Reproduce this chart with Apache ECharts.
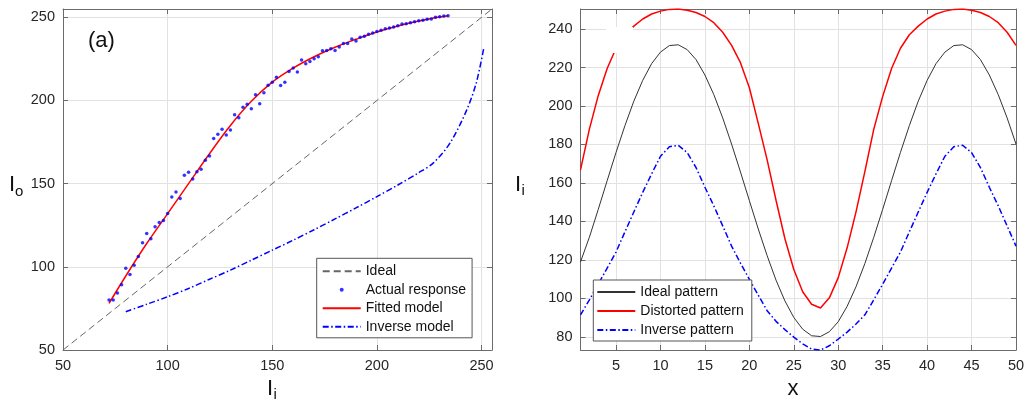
<!DOCTYPE html>
<html>
<head>
<meta charset="utf-8">
<script src="https://cdn.jsdelivr.net/npm/echarts@6/dist/echarts.min.js"></script>
<style>
  html, body { margin: 0; padding: 0; background: #fff; }
  #chart { width: 1036px; height: 401px; }
</style>
</head>
<body>
<div id="chart"></div>
<script>
// ---- (a) response curve: input intensity Ii vs output intensity Io ----
const respTicks = [50, 100, 150, 200, 250];

const idealLine = [[50, 50], [255, 255]];

const measuredIi = [72, 74, 76, 78, 80, 82, 84, 86, 88, 90, 92, 94, 96, 98, 100, 102, 104, 106, 108, 110,
  112, 114, 116, 118, 120, 122, 124, 126, 128, 130, 132, 134, 136, 138, 140, 142, 144, 146, 148, 150,
  152, 154, 156, 158, 160, 162, 164, 166, 168, 170, 172, 174, 176, 178, 180, 182, 184, 186, 188, 190,
  192, 194, 196, 198, 200, 202, 204, 206, 208, 210, 212, 214, 216, 218, 220, 222, 224, 226, 228, 230,
  232, 234];
const measuredIo = [80.1, 80.1, 84.2, 89.2, 99.2, 95.4, 101.0, 106.2, 114.5, 120.1, 116.9, 124.1, 126.7, 127.9, 132.1, 142.0, 145.0, 141.1, 155.0, 156.8,
  152.8, 157.2, 158.6, 164.0, 166.6, 177.1, 179.7, 182.7, 179.3, 182.3, 191.4, 189.6, 196.0, 197.8, 195.0, 203.4, 198.0, 204.6, 209.2, 211.0,
  214.0, 209.0, 211.0, 217.5, 219.5, 217.1, 224.3, 222.1, 223.5, 225.1, 226.3, 229.9, 230.1, 231.1, 230.1, 232.1, 234.3, 234.3, 236.9, 235.7,
  238.0, 238.6, 239.8, 240.6, 241.4, 242.2, 243.2, 243.6, 244.2, 245.0, 246.0, 246.2, 246.8, 247.4, 248.0, 248.2, 248.8, 249.0, 250.0, 250.4,
  250.8, 251.0];

const fittedIi = [72, 80, 90, 100, 110, 120, 130, 140, 150, 160, 170, 180, 190, 200, 210, 220, 230, 234];
const fittedIo = [78, 94.5, 114, 132, 150, 168, 185, 199.5, 211, 219.5, 226.3, 232, 236.8, 241.2, 244.8, 247.8, 250.2, 251];

const inverseIi = [80, 90, 100, 110, 120, 130, 140, 150, 160, 170, 180, 190, 200, 210, 220, 227, 235, 243, 247.5, 251];
const inverseIo = [73, 77.5, 82, 87, 92.5, 98, 104, 110, 116, 122.3, 128.8, 135.4, 142.2, 149.2, 156.6, 162.5, 174.5, 194.5, 210.7, 231];

// ---- (b) fringe patterns along x ----
const xPos = [1, 2, 3, 4, 5, 6, 7, 8, 9, 10, 11, 12, 13, 14, 15, 16, 17, 18, 19, 20, 21, 22, 23, 24, 25,
  26, 27, 28, 29, 30, 31, 32, 33, 34, 35, 36, 37, 38, 39, 40, 41, 42, 43, 44, 45, 46, 47, 48, 49, 50];
const idealPattern = [119.0, 131.8, 146.3, 161.2, 175.9, 189.8, 202.5, 213.3, 222.0, 228.0, 231.4, 231.8, 229.3, 224.1, 216.1, 205.9, 193.8, 180.2, 165.7, 150.8, 136.1, 122.2, 109.5, 98.7, 90.1,
  84.0, 80.6, 80.2, 82.7, 87.9, 95.9, 106.1, 118.2, 131.8, 146.3, 161.2, 175.9, 189.8, 202.5, 213.3, 222.0, 228.0, 231.4, 231.8, 229.3, 224.1, 216.1, 205.9, 193.8, 180.2];
const distortedPattern = [166.8, 188, 205.5, 219.5, 230, 237, 241.5, 245.2, 247.8, 249.3, 250.2, 250.4, 249.8, 248.6, 246.5, 243.3, 238.3, 231.5, 222.5, 209.5, 191, 172, 151, 131, 115,
  103.5, 97, 95, 100.3, 110.8, 126.3, 145, 166, 188, 205, 219.5, 230, 237, 241.5, 245.2, 247.8, 249.3, 250.2, 250.4, 249.8, 248.6, 246.5, 243.3, 238.3, 231.5];
const inversePattern = [91.4, 99.3, 107.4, 115.8, 124.1, 134.6, 144.9, 155.1, 164.7, 173.9, 178.8, 179.6, 175.8, 168, 157.8, 148.1, 137.7, 127.2, 118.3, 109.9, 101.7, 93.6, 88.1, 83.8, 79.9,
  76.4, 73.7, 73.2, 75.4, 78.9, 82.5, 86.7, 91.5, 99.3, 107.4, 115.8, 124.1, 134.6, 144.9, 155.1, 164.7, 173.9, 178.8, 179.6, 175.8, 168, 157.8, 148.1, 137.7, 127.2];
const patternXTicks = [5, 10, 15, 20, 25, 30, 35, 40, 45, 50];
const patternYTicks = [80, 100, 120, 140, 160, 180, 200, 220, 240];

// ---- styling ----
const FONT = 'Liberation Sans';
const AXIS_COLOR = '#6b6b6b';
const GRID_COLOR = '#e2e2e2';
const TEXT_COLOR = '#262626';
const BLUE = '#0000ff';
const RED = '#ff0000';
const dashDot = [6, 2.5, 1.5, 2.5];

const pairs = (xs, ys) => xs.map((x, i) => [x, ys[i]]);

function mainAxis(gridIndex, position, min, max, ticks) {
  return {
    type: 'value', gridIndex, position, min, max,
    axisLine: { show: true, onZero: false, lineStyle: { color: AXIS_COLOR, width: 1 } },
    axisTick: { show: true, inside: true, length: 5, customValues: ticks, lineStyle: { color: AXIS_COLOR } },
    axisLabel: {
      show: true, customValues: ticks, margin: 8,
      fontFamily: FONT, fontSize: 14.5, color: TEXT_COLOR
    },
    splitLine: { show: true, lineStyle: { color: GRID_COLOR, width: 1 } }
  };
}
function boxAxis(gridIndex, position, min, max, ticks) {
  return {
    type: 'value', gridIndex, position, min, max,
    axisLine: { show: true, onZero: false, lineStyle: { color: AXIS_COLOR, width: 1 } },
    axisTick: { show: true, inside: true, length: 5, customValues: ticks, lineStyle: { color: AXIS_COLOR } },
    axisLabel: { show: false },
    splitLine: { show: false }
  };
}

const legendText = { fontFamily: FONT, fontSize: 14, color: '#111', lineHeight: 16 };
// line entries show only the stroke sample, no marker
const lineEntry = (name) => ({ name, itemStyle: { opacity: 0 } });

const option = {
  animation: false,
  backgroundColor: '#ffffff',
  grid: [
    { left: 63, top: 9, width: 429, height: 341 },
    { left: 580.5, top: 9, width: 435.5, height: 341 }
  ],
  xAxis: [
    mainAxis(0, 'bottom', 50, 255, respTicks),
    boxAxis(0, 'top', 50, 255, respTicks),
    mainAxis(1, 'bottom', 1, 50, patternXTicks),
    boxAxis(1, 'top', 1, 50, patternXTicks)
  ],
  yAxis: [
    mainAxis(0, 'left', 50, 255, respTicks),
    boxAxis(0, 'right', 50, 255, respTicks),
    mainAxis(1, 'left', 73.2, 250.4, patternYTicks),
    boxAxis(1, 'right', 73.2, 250.4, patternYTicks)
  ],
  legend: [
    {
      orient: 'vertical', left: 316.7, top: 258.3,
      data: [lineEntry('Ideal'), { name: 'Actual response' }, lineEntry('Fitted model'), lineEntry('Inverse model')],
      itemWidth: 38, itemHeight: 4, itemGap: 2.5,
      padding: [5, 6, 3, 5],
      backgroundColor: '#ffffff', borderColor: '#555', borderWidth: 1,
      textStyle: legendText, selectedMode: false
    },
    {
      orient: 'vertical', left: 593.3, top: 280,
      data: [lineEntry('Ideal pattern'), lineEntry('Distorted pattern'), lineEntry('Inverse pattern')],
      itemWidth: 38, itemHeight: 4, itemGap: 3,
      padding: [4, 8, 3, 3],
      backgroundColor: '#ffffff', borderColor: '#555', borderWidth: 1,
      textStyle: legendText, selectedMode: false
    }
  ],
  series: [
    {
      name: 'Ideal', type: 'line', xAxisIndex: 0, yAxisIndex: 0, symbol: 'none',
      data: idealLine, lineStyle: { color: '#666', width: 1, type: [7, 4] }, itemStyle: { color: '#666' }
    },
    {
      name: 'Fitted model', type: 'line', xAxisIndex: 0, yAxisIndex: 0, symbol: 'none', smooth: 0.4,
      data: pairs(fittedIi, fittedIo), lineStyle: { color: RED, width: 1.5 }, itemStyle: { color: RED }, z: 3
    },
    {
      name: 'Actual response', type: 'scatter', xAxisIndex: 0, yAxisIndex: 0, symbol: 'circle', symbolSize: 3.5,
      data: pairs(measuredIi, measuredIo), itemStyle: { color: BLUE }, z: 4
    },
    {
      name: 'Inverse model', type: 'line', xAxisIndex: 0, yAxisIndex: 0, symbol: 'none', smooth: 0.3,
      data: pairs(inverseIi, inverseIo), lineStyle: { color: BLUE, width: 1.5, type: dashDot }, itemStyle: { color: BLUE }
    },
    {
      name: 'Ideal pattern', type: 'line', xAxisIndex: 2, yAxisIndex: 2, symbol: 'none',
      data: pairs(xPos, idealPattern), lineStyle: { color: '#333', width: 1 }, itemStyle: { color: '#333' }
    },
    {
      name: 'Distorted pattern', type: 'line', xAxisIndex: 2, yAxisIndex: 2, symbol: 'none',
      data: pairs(xPos, distortedPattern), lineStyle: { color: RED, width: 1.5 }, itemStyle: { color: RED }
    },
    {
      name: 'Inverse pattern', type: 'line', xAxisIndex: 2, yAxisIndex: 2, symbol: 'none',
      data: pairs(xPos, inversePattern), lineStyle: { color: BLUE, width: 1.5, type: dashDot }, itemStyle: { color: BLUE }
    }
  ],
  graphic: [
    // panel tag
    { type: 'text', x: 88, y: 41, style: { text: '(a)', fontFamily: FONT, fontSize: 22, fill: '#111', verticalAlign: 'middle' } },
    // axis titles with subscripts
    { type: 'text', x: 9, y: 185, style: { text: 'I', fontFamily: FONT, fontSize: 22, fill: '#111', verticalAlign: 'middle' } },
    { type: 'text', x: 15, y: 192, style: { text: 'o', fontFamily: FONT, fontSize: 15, fill: '#111', verticalAlign: 'middle' } },
    { type: 'text', x: 267, y: 389, style: { text: 'I', fontFamily: FONT, fontSize: 22, fill: '#111', verticalAlign: 'middle' } },
    { type: 'text', x: 273.5, y: 395, style: { text: 'i', fontFamily: FONT, fontSize: 15, fill: '#111', verticalAlign: 'middle' } },
    { type: 'text', x: 515, y: 185, style: { text: 'I', fontFamily: FONT, fontSize: 22, fill: '#111', verticalAlign: 'middle' } },
    { type: 'text', x: 521.5, y: 191, style: { text: 'i', fontFamily: FONT, fontSize: 15, fill: '#111', verticalAlign: 'middle' } },
    { type: 'text', x: 793, y: 389, style: { text: 'x', fontFamily: FONT, fontSize: 22, fill: '#111', align: 'center', verticalAlign: 'middle' } },
    // blank patch in the upper-left of panel (b)
    { type: 'rect', shape: { x: 606, y: 27, width: 27, height: 26 }, style: { fill: '#ffffff' }, z: 100 }
  ]
};

const chart = echarts.init(document.getElementById('chart'), null, { renderer: 'canvas' });
chart.setOption(option);
</script>
</body>
</html>
